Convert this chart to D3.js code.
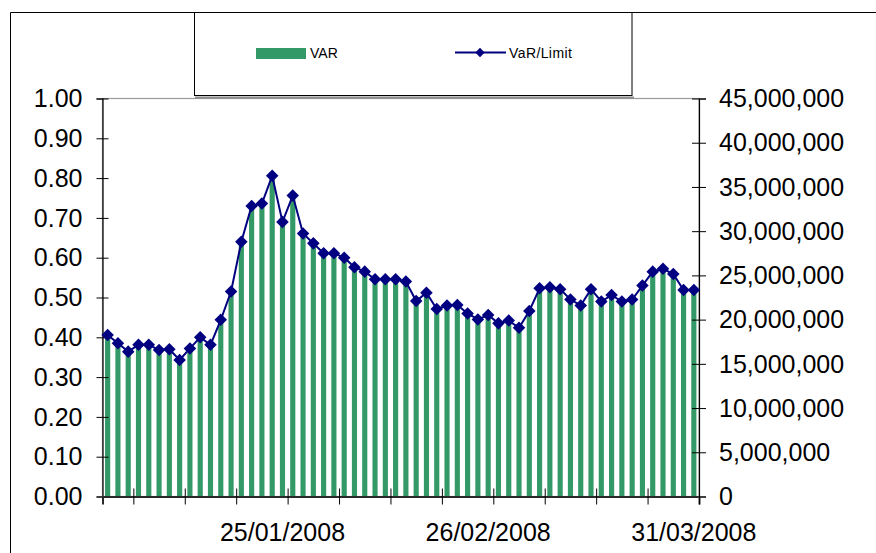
<!DOCTYPE html>
<html>
<head>
<meta charset="utf-8">
<script src="https://cdn.jsdelivr.net/npm/d3@7"></script>
<style>
  html, body { margin: 0; padding: 0; background: #ffffff; }
  svg { display: block; font-family: "Liberation Sans", Arial, Helvetica, sans-serif; }
</style>
</head>
<body>
<svg id="chart" width="876" height="553"></svg>
<script>
// Daily VaR/Limit ratio (left axis)
const ratioValues = [
  0.406, 0.385, 0.364, 0.381, 0.381, 0.368, 0.370, 0.343, 0.372, 0.400,
  0.381, 0.444, 0.515, 0.640, 0.730, 0.736, 0.806, 0.690, 0.756, 0.661,
  0.636, 0.611, 0.611, 0.600, 0.576, 0.565, 0.546, 0.546, 0.546, 0.540,
  0.491, 0.512, 0.471, 0.480, 0.481, 0.460, 0.445, 0.456, 0.435, 0.442,
  0.424, 0.466, 0.523, 0.526, 0.521, 0.495, 0.480, 0.521, 0.490, 0.506,
  0.490, 0.495, 0.530, 0.565, 0.572, 0.559, 0.519, 0.519
];

// Daily VAR amount (right axis)
const varValues = [
  18.27e6, 17.33e6, 16.38e6, 17.15e6, 17.15e6, 16.56e6, 16.65e6, 15.44e6, 16.74e6, 18.00e6,
  17.15e6, 19.98e6, 23.18e6, 28.80e6, 32.85e6, 33.12e6, 36.27e6, 31.05e6, 34.02e6, 29.75e6,
  28.62e6, 27.50e6, 27.50e6, 27.00e6, 25.92e6, 25.43e6, 24.57e6, 24.57e6, 24.57e6, 24.30e6,
  22.10e6, 23.04e6, 21.20e6, 21.60e6, 21.65e6, 20.70e6, 20.03e6, 20.52e6, 19.58e6, 19.89e6,
  19.08e6, 20.97e6, 23.54e6, 23.67e6, 23.45e6, 22.28e6, 21.60e6, 23.45e6, 22.05e6, 22.77e6,
  22.05e6, 22.28e6, 23.85e6, 25.43e6, 25.74e6, 25.16e6, 23.36e6, 23.36e6
];

// Category axis: one category per trading day, labelled every 20th day
const dateLabels = ["25/01/2008", "26/02/2008", "31/03/2008"];
const dateLabelIndex = [17, 37, 57];
// Tick marks sit on category boundaries every 5 days
const categoryTickBoundaries = [3, 8, 13, 18, 23, 28, 33, 38, 43, 48, 53, 58];

const leftTicks = [0, 0.1, 0.2, 0.3, 0.4, 0.5, 0.6, 0.7, 0.8, 0.9, 1.0];
const rightTicks = [0, 5e6, 10e6, 15e6, 20e6, 25e6, 30e6, 35e6, 40e6, 45e6];
const seriesNames = ["VAR", "VaR/Limit"];

const barColor = "#339966";
const lineColor = "#000080";
const axisFont = 25;

const svg = d3.select("#chart");
const plot = { left: 102.5, right: 699, top: 98.5, bottom: 496.5 };

const categories = d3.range(ratioValues.length);
const x = d3.scaleBand().domain(categories).range([plot.left, plot.right]).padding(0);
const xBoundary = d3.scaleLinear().domain([0, categories.length]).range([plot.left, plot.right]);
const yLeft = d3.scaleLinear().domain([0, 1]).range([plot.bottom, plot.top]);
const yRight = d3.scaleLinear().domain([0, 45e6]).range([plot.bottom, plot.top]);

// Outer chart frame (clipped by the page edge)
svg.append("line").attr("x1", 10.5).attr("x2", 880).attr("y1", 12.5).attr("y2", 12.5)
  .attr("stroke", "#000").attr("stroke-width", 1);
svg.append("line").attr("x1", 10.5).attr("x2", 10.5).attr("y1", 12.5).attr("y2", 560)
  .attr("stroke", "#000").attr("stroke-width", 1);

// Plot area border
svg.append("rect")
  .attr("x", plot.left).attr("y", plot.top)
  .attr("width", plot.right - plot.left).attr("height", plot.bottom - plot.top)
  .attr("fill", "none").attr("stroke", "#9a9a9a").attr("stroke-width", 1.2);

// VAR bars
const bw = x.bandwidth();
svg.append("g").selectAll("rect")
  .data(varValues)
  .join("rect")
  .attr("x", (d, i) => x(i) + bw * 0.25)
  .attr("width", bw * 0.5)
  .attr("y", d => yRight(d))
  .attr("height", d => plot.bottom - yRight(d))
  .attr("fill", barColor);

// Left axis
const gLeft = svg.append("g")
  .attr("transform", `translate(${plot.left},0)`)
  .call(d3.axisLeft(yLeft).tickValues(leftTicks).tickFormat(d3.format(".2f")).tickSize(6).tickPadding(14));
gLeft.selectAll(".tick line").attr("x2", 6).attr("x1", -6);

// Right axis
const gRight = svg.append("g")
  .attr("transform", `translate(${plot.right},0)`)
  .call(d3.axisRight(yRight).tickValues(rightTicks).tickFormat(d3.format(",")).tickSize(7).tickPadding(13));
gRight.selectAll(".tick line").attr("x1", -7).attr("x2", 7);

[gLeft, gRight].forEach(g => {
  g.select(".domain").attr("stroke", "#000").attr("stroke-width", 1.2);
  g.selectAll(".tick line").attr("stroke", "#000").attr("stroke-width", 1);
  g.selectAll(".tick text")
    .attr("font-size", axisFont).attr("fill", "#000")
    .attr("font-family", "'Liberation Sans', Arial, sans-serif")
    .attr("dy", "0.33em");
});

// Bottom axis: tick marks on category boundaries
const gBottom = svg.append("g")
  .attr("transform", `translate(0,${plot.bottom})`)
  .call(d3.axisBottom(xBoundary).tickValues(categoryTickBoundaries).tickFormat("").tickSize(8));
gBottom.select(".domain").attr("stroke", "#2a2a2a").attr("stroke-width", 2);
gBottom.selectAll(".tick line").attr("y1", -8).attr("y2", 8).attr("stroke", "#000");

// Bottom axis labels at selected days
const gLabels = svg.append("g")
  .attr("transform", `translate(0,${plot.bottom})`)
  .call(d3.axisBottom(x).tickValues(dateLabelIndex)
    .tickFormat((d) => dateLabels[dateLabelIndex.indexOf(d)]).tickSize(0).tickPadding(27));
gLabels.select(".domain").remove();
gLabels.selectAll(".tick text")
  .attr("font-size", axisFont).attr("fill", "#000")
  .attr("font-family", "'Liberation Sans', Arial, sans-serif");

// VaR/Limit line with diamond markers
const cx = i => x(i) + bw / 2;
svg.append("path")
  .datum(ratioValues)
  .attr("fill", "none")
  .attr("stroke", lineColor)
  .attr("stroke-width", 2)
  .attr("d", d3.line().x((d, i) => cx(i)).y(d => yLeft(d)));

const diamond = d3.symbol().type(d3.symbolDiamond2).size(100);
svg.append("g").selectAll("path")
  .data(ratioValues)
  .join("path")
  .attr("transform", (d, i) => `translate(${cx(i)},${yLeft(d)})`)
  .attr("d", diamond)
  .attr("fill", lineColor);

// Legend box
const legend = svg.append("g");
legend.append("rect")
  .attr("x", 194.5).attr("y", 12.5).attr("width", 437.5).attr("height", 83)
  .attr("fill", "#fff").attr("stroke", "#000").attr("stroke-width", 1);
legend.append("line").attr("x1", 195).attr("x2", 634).attr("y1", 97.5).attr("y2", 97.5)
  .attr("stroke", "#8c8c8c").attr("stroke-width", 2);

legend.append("rect")
  .attr("x", 256).attr("y", 48).attr("width", 50).attr("height", 11)
  .attr("fill", barColor);
legend.append("text")
  .attr("x", 310).attr("y", 58)
  .attr("font-size", 14).attr("fill", "#000")
  .text(seriesNames[0]);

legend.append("line")
  .attr("x1", 455).attr("x2", 506).attr("y1", 52.5).attr("y2", 52.5)
  .attr("stroke", lineColor).attr("stroke-width", 2);
legend.append("path")
  .attr("transform", "translate(480,52.5)")
  .attr("d", d3.symbol().type(d3.symbolDiamond2).size(55))
  .attr("fill", lineColor);
legend.append("text")
  .attr("x", 509).attr("y", 58)
  .attr("font-size", 14).attr("letter-spacing", 0.4).attr("fill", "#000")
  .text(seriesNames[1]);
</script>
</body>
</html>
